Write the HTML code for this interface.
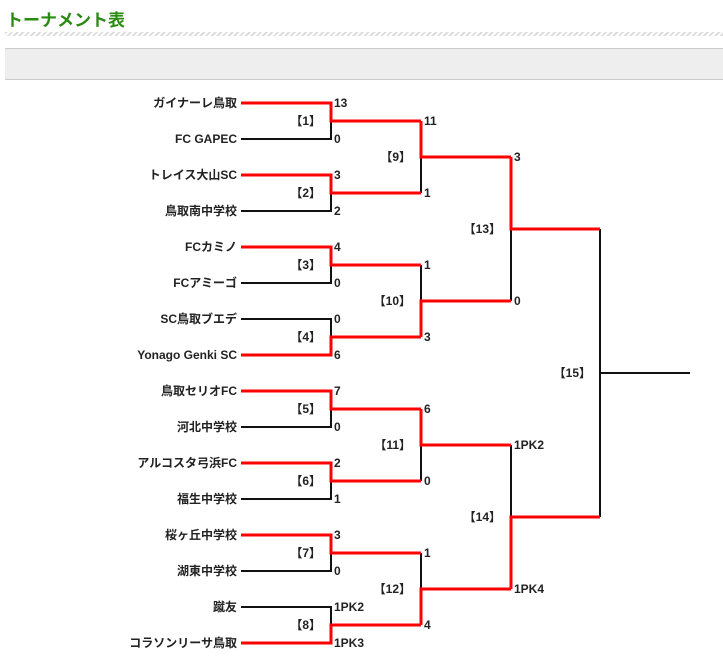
<!DOCTYPE html>
<html><head><meta charset="utf-8"><style>
body{margin:0;width:723px;height:664px;background:#fff;overflow:hidden;font-family:"Liberation Sans","Noto Sans CJK JP",sans-serif;}
.h{position:absolute;left:6px;top:6px;font-size:17px;font-weight:bold;color:#2a8a12;}
.st{position:absolute;left:5px;top:32px;width:718px;height:4px;background:repeating-linear-gradient(135deg,#ddd 0 2px,#fff 2px 4px);}
.bx{position:absolute;left:5px;top:48px;width:718px;height:30px;background:#eee;border-top:1px solid #ccc;border-bottom:1px solid #ccc;}
svg{position:absolute;left:0;top:0;}
text{font-family:"Liberation Sans","Noto Sans CJK JP",sans-serif;font-size:12px;font-weight:bold;fill:#222;dominant-baseline:central;}
</style></head><body>
<div class="h">トーナメント表</div><div class="st"></div><div class="bx"></div>
<svg width="723" height="664">
<g fill="none" stroke="#111" stroke-width="2">
<path d="M241 139H331V121M241 211H331V193M241 283H331V265M241 319H331V337M241 427H331V409M241 499H331V481M241 571H331V553M241 607H331V625"/>
<path d="M421 193V157M421 265V301M421 481V445M421 553V589M511 301V229M511 445V517M600 229V517M600 373H690"/>
</g>
<g fill="none" stroke="#f00" stroke-width="3">
<path d="M241 103H331V121H421M241 175H331V193H421M241 247H331V265H421M241 355H331V337H421M241 391H331V409H421M241 463H331V481H421M241 535H331V553H421M241 643H331V625H421"/>
<path d="M421 121V157H511M421 337V301H511M421 409V445H511M421 625V589H511M511 157V229H600M511 589V517H600"/>
</g>
<g text-anchor="end">
<text x="237" y="103">ガイナーレ鳥取</text><text x="237" y="139">FC GAPEC</text>
<text x="237" y="175">トレイス大山SC</text><text x="237" y="211">鳥取南中学校</text>
<text x="237" y="247">FCカミノ</text><text x="237" y="283">FCアミーゴ</text>
<text x="237" y="319">SC鳥取ブエデ</text><text x="237" y="355">Yonago Genki SC</text>
<text x="237" y="391">鳥取セリオFC</text><text x="237" y="427">河北中学校</text>
<text x="237" y="463">アルコスタ弓浜FC</text><text x="237" y="499">福生中学校</text>
<text x="237" y="535">桜ヶ丘中学校</text><text x="237" y="571">湖東中学校</text>
<text x="237" y="607">蹴友</text><text x="237" y="643">コラソンリーサ鳥取</text>
<text x="321" y="121">【1】</text><text x="321" y="193">【2】</text><text x="321" y="265">【3】</text><text x="321" y="337">【4】</text>
<text x="321" y="409">【5】</text><text x="321" y="481">【6】</text><text x="321" y="553">【7】</text><text x="321" y="625">【8】</text>
<text x="411" y="157">【9】</text><text x="411" y="301">【10】</text><text x="411" y="445">【11】</text><text x="411" y="589">【12】</text>
<text x="501" y="229">【13】</text><text x="501" y="517">【14】</text><text x="591" y="373">【15】</text>
</g>
<g>
<text x="334" y="103">13</text><text x="334" y="139">0</text><text x="334" y="175">3</text><text x="334" y="211">2</text>
<text x="334" y="247">4</text><text x="334" y="283">0</text><text x="334" y="319">0</text><text x="334" y="355">6</text>
<text x="334" y="391">7</text><text x="334" y="427">0</text><text x="334" y="463">2</text><text x="334" y="499">1</text>
<text x="334" y="535">3</text><text x="334" y="571">0</text><text x="334" y="607">1PK2</text><text x="334" y="643">1PK3</text>
<text x="424" y="121">11</text><text x="424" y="193">1</text><text x="424" y="265">1</text><text x="424" y="337">3</text>
<text x="424" y="409">6</text><text x="424" y="481">0</text><text x="424" y="553">1</text><text x="424" y="625">4</text>
<text x="514" y="157">3</text><text x="514" y="301">0</text><text x="514" y="445">1PK2</text><text x="514" y="589">1PK4</text>
</g>
</svg>
</body></html>
